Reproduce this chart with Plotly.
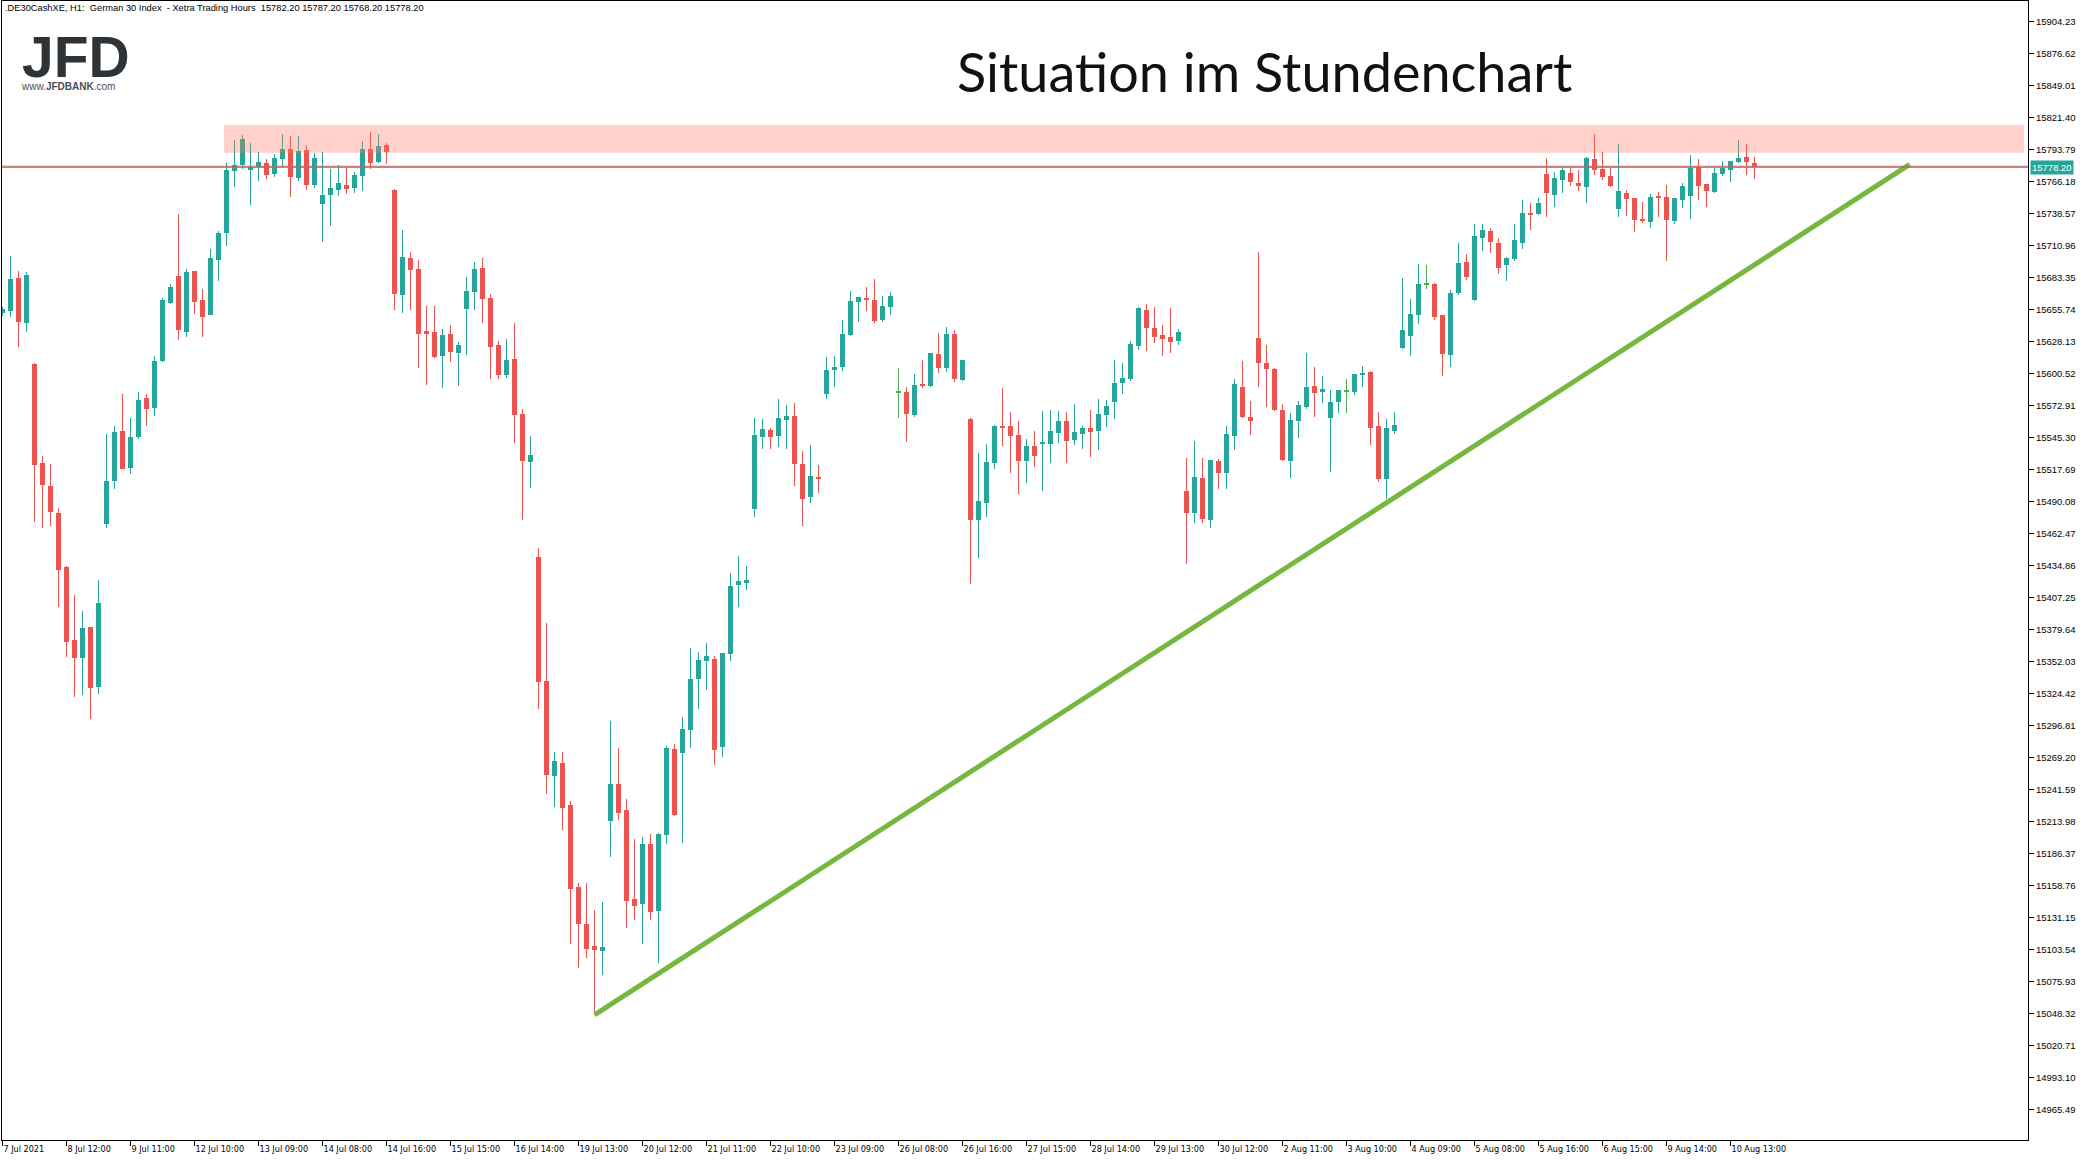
import plotly.graph_objects as go

# ---------------- data ----------------
opens = [
    15652.8, 15654.5, 15682.7, 15644.2, 15608.6, 15523.1, 15503.3, 15480.0, 15433.7, 15370.4,
    15355.1, 15381.6, 15330.1, 15470.8, 15507.9, 15550.7, 15519.1, 15545.8, 15579.2, 15570.8,
    15611.4, 15661.4, 15684.5, 15636.2, 15688.8, 15663.8, 15650.8, 15698.5, 15721.8, 15775.3,
    15780.5, 15776.2, 15778.3, 15782.0, 15772.7, 15785.7, 15794.0, 15769.0, 15793.2, 15763.2,
    15746.9, 15754.6, 15758.9, 15763.0, 15760.7, 15771.0, 15794.0, 15782.8, 15797.5, 15758.7,
    15668.1, 15700.0, 15690.5, 15637.0, 15636.2, 15615.4, 15634.4, 15618.0, 15656.0, 15670.7,
    15691.4, 15665.5, 15624.9, 15599.0, 15612.9, 15565.4, 15524.0, 15442.0, 15335.0, 15253.1,
    15264.3, 15228.1, 15157.3, 15125.4, 15106.4, 15102.1, 15214.2, 15246.2, 15223.7, 15146.9,
    15142.6, 15194.4, 15136.6, 15202.2, 15276.4, 15272.9, 15292.7, 15336.8, 15352.3, 15354.0,
    15278.1, 15358.3, 15417.9, 15419.6, 15483.4, 15545.6, 15551.6, 15546.4, 15560.2, 15563.7,
    15522.3, 15493.8, 15511.1, 15582.7, 15603.4, 15606.0, 15633.6, 15662.0, 15665.5, 15663.8,
    15646.5, 15657.7, 15584.1, 15584.4, 15564.5, 15591.3, 15589.6, 15617.2, 15605.1, 15634.4,
    15594.7, 15561.1, 15474.0, 15488.6, 15523.1, 15555.1, 15555.1, 15547.3, 15524.8, 15537.8,
    15539.5, 15539.5, 15549.0, 15559.4, 15543.0, 15548.1, 15553.3, 15550.7, 15564.5, 15575.8,
    15592.1, 15595.6, 15624.1, 15655.1, 15639.6, 15633.6, 15631.8, 15628.4, 15499.0, 15480.0,
    15510.2, 15474.0, 15524.8, 15514.5, 15546.4, 15588.7, 15562.8, 15631.0, 15609.4, 15604.2,
    15568.9, 15524.8, 15559.4, 15571.4, 15589.6, 15584.4, 15562.0, 15575.8, 15585.0, 15584.4,
    15599.0, 15601.6, 15555.1, 15509.3, 15550.7, 15622.3, 15632.7, 15650.8, 15677.6, 15677.6,
    15650.8, 15616.3, 15669.8, 15696.5, 15663.8, 15717.3, 15723.3, 15712.9, 15694.0, 15699.1,
    15712.9, 15738.8, 15738.0, 15772.5, 15754.4, 15767.3, 15773.3, 15764.7, 15761.3, 15785.4,
    15776.8, 15770.7, 15742.3, 15756.1, 15751.8, 15732.8, 15731.1, 15753.5, 15752.6, 15731.9,
    15750.0, 15753.5, 15778.5, 15763.9, 15756.9, 15772.5, 15775.9, 15782.8, 15787.1, 15782.2,
]
highs = [
    15658.0, 15701.7, 15688.8, 15687.9, 15609.1, 15529.2, 15522.3, 15484.6, 15434.3, 15409.2,
    15395.4, 15382.0, 15422.2, 15548.2, 15555.1, 15582.7, 15562.0, 15584.4, 15582.7, 15615.4,
    15665.5, 15677.6, 15738.0, 15690.5, 15689.0, 15673.3, 15707.8, 15723.3, 15781.7, 15801.8,
    15806.1, 15799.2, 15791.5, 15785.4, 15789.7, 15807.0, 15805.3, 15805.3, 15797.5, 15790.6,
    15791.5, 15776.8, 15780.2, 15777.6, 15774.2, 15800.9, 15808.7, 15807.0, 15799.2, 15759.5,
    15724.2, 15705.2, 15698.3, 15658.6, 15658.6, 15638.7, 15642.2, 15627.5, 15683.6, 15696.5,
    15700.0, 15668.9, 15628.4, 15630.1, 15643.9, 15569.7, 15546.4, 15449.8, 15385.1, 15273.8,
    15273.8, 15231.5, 15160.7, 15160.7, 15137.5, 15144.4, 15300.5, 15277.2, 15233.2, 15198.7,
    15200.4, 15203.0, 15203.9, 15278.9, 15280.7, 15304.0, 15363.5, 15360.1, 15367.8, 15356.6,
    15359.5, 15428.2, 15442.9, 15434.3, 15562.0, 15561.1, 15553.3, 15578.3, 15573.2, 15574.9,
    15533.5, 15538.7, 15521.4, 15614.6, 15615.4, 15646.5, 15671.5, 15666.6, 15675.0, 15681.9,
    15667.2, 15670.7, 15605.1, 15588.7, 15599.9, 15612.0, 15618.2, 15635.3, 15640.5, 15637.9,
    15612.3, 15561.5, 15531.7, 15539.5, 15555.9, 15587.8, 15567.1, 15559.4, 15543.8, 15550.7,
    15568.0, 15568.9, 15568.0, 15567.1, 15574.0, 15555.1, 15568.9, 15578.3, 15577.5, 15612.0,
    15609.4, 15628.4, 15657.5, 15660.3, 15657.7, 15642.2, 15656.9, 15638.7, 15527.4, 15542.1,
    15527.4, 15526.0, 15526.6, 15555.1, 15595.6, 15611.1, 15576.6, 15705.2, 15624.9, 15605.1,
    15574.0, 15566.3, 15576.6, 15618.0, 15606.0, 15598.2, 15586.1, 15586.3, 15595.6, 15600.2,
    15606.8, 15602.5, 15567.1, 15561.1, 15567.1, 15682.7, 15664.6, 15694.8, 15694.0, 15678.0,
    15651.0, 15672.4, 15712.9, 15703.4, 15729.3, 15729.3, 15725.9, 15717.3, 15700.9, 15729.3,
    15750.0, 15747.4, 15751.8, 15786.3, 15774.2, 15778.5, 15778.5, 15775.9, 15786.8, 15807.0,
    15791.5, 15778.5, 15798.4, 15758.7, 15752.0, 15748.3, 15755.2, 15756.9, 15763.0, 15752.0,
    15764.7, 15788.9, 15785.4, 15764.1, 15777.6, 15783.7, 15784.0, 15801.8, 15798.4, 15787.2,
]
lows = [
    15650.0, 15649.4, 15623.5, 15636.4, 15472.5, 15467.3, 15469.0, 15399.2, 15356.0, 15321.5,
    15323.2, 15302.5, 15324.1, 15467.3, 15501.0, 15518.0, 15513.9, 15544.1, 15555.3, 15563.9,
    15610.5, 15660.6, 15629.3, 15632.1, 15651.7, 15632.1, 15650.5, 15680.4, 15710.4, 15761.5,
    15776.5, 15746.0, 15766.7, 15768.4, 15770.1, 15778.8, 15752.9, 15766.7, 15758.9, 15760.7,
    15714.1, 15727.9, 15753.7, 15755.5, 15756.3, 15758.1, 15777.0, 15782.2, 15781.4, 15655.1,
    15652.5, 15655.1, 15605.1, 15590.4, 15613.7, 15587.8, 15610.3, 15589.6, 15616.3, 15655.1,
    15643.9, 15595.6, 15595.6, 15596.5, 15540.4, 15474.0, 15501.6, 15310.9, 15237.5, 15226.3,
    15206.5, 15108.1, 15087.4, 15096.0, 15046.9, 15081.4, 15183.2, 15215.1, 15121.9, 15128.8,
    15108.1, 15128.8, 15091.7, 15194.4, 15218.5, 15195.3, 15277.2, 15310.9, 15327.3, 15262.6,
    15269.5, 15352.3, 15398.9, 15413.6, 15476.5, 15535.2, 15535.2, 15536.9, 15535.2, 15503.3,
    15468.8, 15488.6, 15497.2, 15578.3, 15588.7, 15602.5, 15632.7, 15644.8, 15654.3, 15643.9,
    15644.8, 15650.8, 15562.0, 15541.2, 15562.8, 15587.8, 15588.7, 15600.8, 15601.6, 15593.0,
    15593.9, 15418.7, 15441.2, 15476.5, 15517.9, 15537.8, 15514.5, 15496.4, 15505.9, 15519.7,
    15499.0, 15523.1, 15540.4, 15523.1, 15538.7, 15535.2, 15528.3, 15534.3, 15554.2, 15561.1,
    15582.7, 15593.9, 15620.6, 15619.8, 15626.7, 15615.4, 15618.0, 15624.9, 15436.0, 15471.4,
    15471.4, 15467.1, 15500.7, 15500.7, 15534.3, 15562.0, 15547.3, 15588.7, 15571.4, 15568.0,
    15524.8, 15510.2, 15544.7, 15569.7, 15562.8, 15574.9, 15515.4, 15566.3, 15566.3, 15581.8,
    15588.7, 15538.7, 15506.7, 15492.1, 15548.1, 15621.5, 15615.4, 15643.0, 15673.3, 15646.5,
    15598.2, 15606.0, 15668.1, 15681.0, 15662.9, 15706.0, 15704.3, 15686.2, 15680.1, 15697.4,
    15707.8, 15724.2, 15737.1, 15735.4, 15744.0, 15756.1, 15762.1, 15757.8, 15747.4, 15771.6,
    15767.3, 15761.3, 15735.4, 15736.2, 15722.4, 15730.2, 15725.9, 15735.4, 15697.4, 15729.3,
    15743.1, 15733.7, 15750.0, 15744.0, 15756.1, 15770.7, 15765.6, 15781.9, 15771.6, 15768.2,
]
closes = [
    15655.7, 15681.9, 15645.0, 15685.3, 15521.4, 15504.1, 15481.1, 15431.1, 15369.0, 15355.1,
    15380.8, 15329.2, 15402.3, 15507.6, 15549.9, 15518.2, 15545.6, 15577.5, 15570.0, 15611.1,
    15663.8, 15675.0, 15637.9, 15687.9, 15662.3, 15649.4, 15700.0, 15721.6, 15775.9, 15780.0,
    15802.7, 15778.8, 15782.8, 15771.9, 15786.3, 15794.0, 15770.1, 15792.3, 15763.2, 15786.3,
    15754.4, 15760.4, 15764.7, 15759.8, 15771.6, 15794.0, 15782.2, 15796.6, 15791.7, 15669.2,
    15700.9, 15689.6, 15634.4, 15634.4, 15614.6, 15633.6, 15618.9, 15624.9, 15671.5, 15690.5,
    15664.6, 15623.2, 15599.0, 15611.9, 15564.5, 15524.8, 15530.0, 15334.2, 15253.9, 15266.0,
    15225.5, 15155.6, 15125.4, 15103.8, 15102.9, 15105.5, 15246.2, 15221.1, 15145.2, 15140.9,
    15194.4, 15135.7, 15203.0, 15277.2, 15219.4, 15293.6, 15336.8, 15353.2, 15356.6, 15275.5,
    15359.2, 15416.9, 15421.3, 15422.2, 15547.3, 15552.5, 15545.6, 15562.0, 15563.7, 15522.3,
    15492.1, 15511.9, 15509.3, 15603.4, 15606.0, 15634.4, 15662.9, 15666.3, 15663.8, 15645.6,
    15658.6, 15667.2, 15584.1, 15565.4, 15590.4, 15589.6, 15618.0, 15605.1, 15634.4, 15595.6,
    15612.0, 15474.0, 15490.3, 15524.0, 15555.1, 15553.3, 15546.4, 15524.8, 15537.8, 15529.2,
    15541.2, 15550.7, 15559.4, 15542.1, 15549.9, 15553.3, 15549.9, 15565.4, 15572.3, 15592.1,
    15596.5, 15625.8, 15656.9, 15639.6, 15631.8, 15630.1, 15627.5, 15636.2, 15480.0, 15511.1,
    15474.8, 15525.7, 15514.5, 15548.1, 15591.3, 15562.8, 15559.4, 15609.4, 15604.2, 15568.9,
    15525.7, 15560.2, 15573.2, 15588.7, 15583.5, 15586.9, 15575.8, 15586.1, 15585.0, 15599.9,
    15600.8, 15553.3, 15509.3, 15553.3, 15555.9, 15637.9, 15651.7, 15677.6, 15677.6, 15649.1,
    15617.2, 15669.8, 15695.7, 15683.6, 15719.0, 15724.2, 15713.8, 15691.4, 15700.0, 15715.5,
    15738.8, 15737.1, 15747.4, 15756.1, 15769.0, 15775.9, 15765.6, 15762.1, 15786.3, 15775.9,
    15769.9, 15762.1, 15757.8, 15750.9, 15732.8, 15731.9, 15752.6, 15751.8, 15732.8, 15751.8,
    15762.1, 15777.6, 15762.1, 15757.8, 15773.3, 15777.6, 15783.7, 15786.3, 15782.8, 15778.2,
]

x_tick_bars = [0, 8, 16, 24, 32, 40, 48, 56, 64, 72, 80, 88, 96, 104, 112, 120, 128,
               136, 144, 152, 160, 168, 176, 184, 192, 200, 208, 216]
x_tick_labels = ["7 Jul 2021", "8 Jul 12:00", "9 Jul 11:00", "12 Jul 10:00", "13 Jul 09:00",
                 "14 Jul 08:00", "14 Jul 16:00", "15 Jul 15:00", "16 Jul 14:00", "19 Jul 13:00",
                 "20 Jul 12:00", "21 Jul 11:00", "22 Jul 10:00", "23 Jul 09:00", "26 Jul 08:00",
                 "26 Jul 16:00", "27 Jul 15:00", "28 Jul 14:00", "29 Jul 13:00", "30 Jul 12:00",
                 "2 Aug 11:00", "3 Aug 10:00", "4 Aug 09:00", "5 Aug 08:00", "5 Aug 16:00",
                 "6 Aug 15:00", "9 Aug 14:00", "10 Aug 13:00"]
y_tick_labels = ["15904.23", "15876.62", "15849.01", "15821.40", "15793.79", "15766.18",
                 "15738.57", "15710.96", "15683.35", "15655.74", "15628.13", "15600.52",
                 "15572.91", "15545.30", "15517.69", "15490.08", "15462.47", "15434.86",
                 "15407.25", "15379.64", "15352.03", "15324.42", "15296.81", "15269.20",
                 "15241.59", "15213.98", "15186.37", "15158.76", "15131.15", "15103.54",
                 "15075.93", "15048.32", "15020.71", "14993.10", "14965.49"]

resistance_zone = [15790.8, 15814.8]      # price band
resistance_start_bar = 28
trend_bars = [74, 238.4]
trend_prices = [15046.9, 15780.7]
last_price = 15778.20
ask_price = 15779.1
header_text = (".DE30CashXE, H1:  German 30 Index  - Xetra Trading Hours  "
               "15782.20 15787.20 15768.20 15778.20")
title_text = "Situation im Stundenchart"

# ---------------- styling ----------------
UP = "#26A69A"
DOWN = "#EF5350"
DOJI = "#4CAF50"
W, H = 2085, 1162
M_L, M_R, M_T, M_B = 2, 57, 1, 22
n = len(opens)
idx = list(range(n))

colors = []
body_base, body_h = [], []
for o, c in zip(opens, closes):
    if abs(c - o) < 0.05:
        colors.append(DOJI)
        body_base.append(o - 0.45)
        body_h.append(0.9)
    else:
        colors.append(UP if c > o else DOWN)
        body_base.append(min(o, c))
        body_h.append(max(abs(c - o), 0.9))

fig = go.Figure()
fig.add_trace(go.Bar(x=idx, y=[h - l for h, l in zip(highs, lows)], base=lows,
                     width=0.125, marker=dict(color=colors, line=dict(width=0)),
                     hoverinfo="skip", showlegend=False))
fig.add_trace(go.Bar(x=idx, y=body_h, base=body_base,
                     width=0.625, marker=dict(color=colors, line=dict(width=0)),
                     hoverinfo="skip", showlegend=False))
fig.add_trace(go.Scatter(x=trend_bars, y=trend_prices, mode="lines",
                         line=dict(color="#76B83F", width=5),
                         hoverinfo="skip", showlegend=False))

plot_w = W - M_L - M_R
plot_h = H - M_T - M_B
x_range = [-0.0625, -0.0625 + plot_w / 8.0]
y_range = [14939.0, 15921.7]

fig.update_layout(
    width=W, height=H,
    margin=dict(l=M_L, r=M_R, t=M_T, b=M_B, pad=0),
    paper_bgcolor="white", plot_bgcolor="white",
    barmode="overlay", bargap=0,
    showlegend=False, hovermode=False,
    xaxis=dict(range=x_range, showgrid=False, zeroline=False, automargin=False,
               showline=True, linecolor="black", linewidth=1, mirror=True,
               tickmode="array", tickvals=x_tick_bars, ticktext=x_tick_labels,
               ticks="outside", ticklen=5, tickcolor="black", tickwidth=1,
               tickangle=0, ticklabelposition="outside right",
               tickfont=dict(family="DejaVu Sans Condensed, Liberation Sans Narrow, Liberation Sans",
                             size=9, color="black"),
               fixedrange=True),
    yaxis=dict(range=y_range, side="right", showgrid=False, zeroline=False, automargin=False,
               showline=True, linecolor="black", linewidth=1, mirror=True,
               tickmode="array", tickvals=[float(t) for t in y_tick_labels],
               ticktext=y_tick_labels,
               ticks="outside", ticklen=5, tickcolor="black", tickwidth=1,
               tickfont=dict(family="Liberation Sans, Arial", size=9.5, color="black"),
               fixedrange=True),
)

shapes = [
    dict(type="rect", xref="x", yref="y", x0=resistance_start_bar - 0.3, x1=x_range[1] - 0.5,
         y0=resistance_zone[0], y1=resistance_zone[1],
         fillcolor="rgba(255,120,100,0.34)", line=dict(width=0), layer="above"),
    dict(type="line", xref="paper", yref="y", x0=0, x1=1, y0=ask_price, y1=ask_price,
         line=dict(color="#EF5350", width=1), layer="above"),
    dict(type="line", xref="paper", yref="y", x0=0, x1=1, y0=last_price, y1=last_price,
         line=dict(color="#26A69A", width=1), layer="above"),
]
fig.update_layout(shapes=shapes)


def px_x(px):
    return (px - M_L) / plot_w


def px_y(py):
    return 1 - (py - M_T) / plot_h


logo_text = ("<span style='font-size:57px;color:#2E3338'><b>JFD</b></span><br>"
             "www.<b>JFDBANK</b>.com")

annotations = [
    dict(text=header_text, xref="paper", yref="paper", x=px_x(3), y=px_y(8.5),
         xanchor="left", yanchor="middle", showarrow=False,
         font=dict(family="Liberation Sans, Arial", size=9.3, color="black")),
    dict(text=logo_text, xref="paper", yref="paper", x=px_x(19), y=px_y(23),
         xanchor="left", yanchor="top", align="left", showarrow=False,
         font=dict(family="Liberation Sans, Arial", size=10, color="#4A4F55")),
    dict(text=title_text, xref="paper", yref="paper", x=px_x(1264), y=px_y(71),
         xanchor="center", yanchor="middle", showarrow=False,
         font=dict(family="Lato, Open Sans, sans-serif", size=54, color="#111111")),
    dict(text="15778.20", xref="paper", yref="y", x=1, y=last_price,
         xanchor="left", yanchor="middle", xshift=2, showarrow=False,
         bgcolor="#26A69A", borderpad=1,
         font=dict(family="Liberation Sans, Arial", size=9.5, color="white")),
]
fig.update_layout(annotations=annotations)

fig.write_html("out.html", include_plotlyjs=True, config={"displayModeBar": False})
